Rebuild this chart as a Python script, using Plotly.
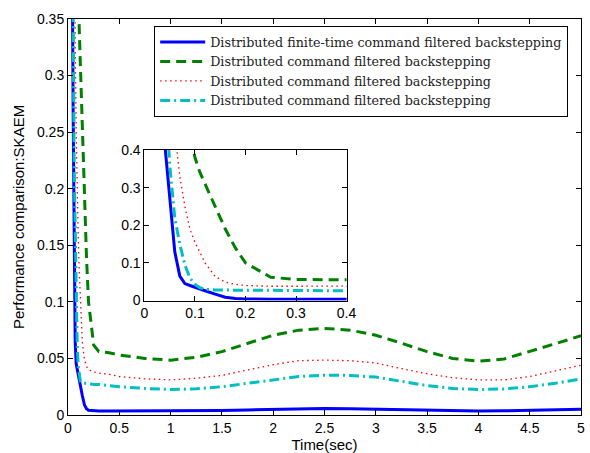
import plotly.graph_objects as go

t = [0, 0.02, 0.04, 0.05, 0.06, 0.07, 0.08, 0.09, 0.1, 0.11, 0.12, 0.14, 0.16, 0.18, 0.2,
     0.25, 0.3, 0.4, 0.5, 0.75, 1.0, 1.25, 1.5, 1.75, 2.0, 2.25, 2.5, 2.75, 3.0, 3.25,
     3.5, 3.75, 4.0, 4.25, 4.5, 4.75, 5.0]

finite_time = [2.0, 1.0, 0.42, 0.27, 0.13, 0.065, 0.045, 0.04, 0.036, 0.031, 0.026, 0.017,
               0.009, 0.0055, 0.0042, 0.0037, 0.0035, 0.0035, 0.0035, 0.0035, 0.0035, 0.0037,
               0.004, 0.0045, 0.005, 0.0055, 0.0057, 0.0055, 0.005, 0.0045, 0.004, 0.0036,
               0.0035, 0.0037, 0.004, 0.0045, 0.005]

cfb_green = [2.0, 1.8, 1.3, 1.0, 0.85, 0.7, 0.55, 0.45, 0.38, 0.34, 0.31, 0.25, 0.19, 0.14,
             0.1, 0.062, 0.056, 0.055, 0.053, 0.05, 0.0485, 0.051, 0.056, 0.063, 0.0705,
             0.075, 0.0765, 0.075, 0.0705, 0.0635, 0.056, 0.05, 0.0475, 0.0495, 0.056,
             0.063, 0.070]

cfb_red = [2.0, 1.5, 0.9, 0.65, 0.45, 0.33, 0.25, 0.19, 0.155, 0.126, 0.1, 0.064, 0.049,
           0.043, 0.04, 0.038, 0.037, 0.036, 0.034, 0.032, 0.031, 0.0325, 0.035, 0.04,
           0.0445, 0.048, 0.0485, 0.048, 0.046, 0.041, 0.0365, 0.033, 0.031, 0.031, 0.034,
           0.039, 0.044]

cfb_cyan = [2.0, 1.2, 0.6, 0.36, 0.22, 0.15, 0.095, 0.06, 0.043, 0.034, 0.03, 0.028, 0.028,
            0.028, 0.028, 0.027, 0.027, 0.026, 0.025, 0.0235, 0.0225, 0.0232, 0.025, 0.028,
            0.031, 0.034, 0.0352, 0.035, 0.0335, 0.030, 0.026, 0.0235, 0.0225, 0.023,
            0.025, 0.028, 0.032]

names = ["Distributed finite-time command filtered backstepping",
         "Distributed command filtered backstepping",
         "Distributed command filtered backstepping",
         "Distributed command filtered backstepping"]

main_xticks = [0, 0.5, 1, 1.5, 2, 2.5, 3, 3.5, 4, 4.5, 5]
main_xlabels = ["0", "0.5", "1", "1.5", "2", "2.5", "3", "3.5", "4", "4.5", "5"]
main_yticks = [0, 0.05, 0.1, 0.15, 0.2, 0.25, 0.3, 0.35]
main_ylabels = ["0", "0.05", "0.1", "0.15", "0.2", "0.25", "0.3", "0.35"]
inset_ticks = [0, 0.1, 0.2, 0.3, 0.4]
inset_labels = ["0", "0.1", "0.2", "0.3", "0.4"]

series = [finite_time, cfb_green, cfb_red, cfb_cyan]
styles = [
    dict(color="#0000FF", width=3, dash="solid"),
    dict(color="#008000", width=3, dash="10px,6px"),
    dict(color="#FF0000", width=1.3, dash="1.5px,3.5px"),
    dict(color="#00BFBF", width=3, dash="10px,4px,2px,4px"),
]

fig = go.Figure()
for y, nm, st in zip(series, names, styles):
    fig.add_trace(go.Scatter(x=t, y=y, mode="lines", name=nm, line=st,
                             xaxis="x", yaxis="y"))
for y, nm, st in zip(series, names, styles):
    fig.add_trace(go.Scatter(x=t, y=y, mode="lines", name=nm, line=st,
                             xaxis="x2", yaxis="y2", showlegend=False))

tickfont = dict(family="Liberation Sans, Arial, sans-serif", size=14, color="black")
titlefont = dict(family="Liberation Sans, Arial, sans-serif", size=15, color="black")
axis_common = dict(showgrid=False, zeroline=False, showline=True, linecolor="black",
                   linewidth=1, mirror="ticks", ticks="inside", ticklen=5,
                   tickcolor="black", tickfont=tickfont, automargin=False)

fig.update_layout(
    template="none",
    width=590, height=453,
    margin=dict(l=68, r=9, t=19, b=38),
    paper_bgcolor="white", plot_bgcolor="white",
    xaxis=dict(range=[0, 5], tickvals=main_xticks, ticktext=main_xlabels,
               title=dict(text="Time(sec)", font=titlefont, standoff=5),
               domain=[0, 1], anchor="y", **axis_common),
    yaxis=dict(range=[0, 0.35], tickvals=main_yticks, ticktext=main_ylabels,
               title=dict(text="Performance comparison:SKAEM", font=titlefont, standoff=8),
               domain=[0, 1], anchor="x", **axis_common),
    xaxis2=dict(range=[0, 0.4], tickvals=inset_ticks, ticktext=inset_labels,
                domain=[0.149, 0.543], anchor="y2", **axis_common),
    yaxis2=dict(range=[0, 0.4], tickvals=inset_ticks, ticktext=inset_labels,
                domain=[0.289, 0.669], anchor="x2", **axis_common),
    legend=dict(x=0.168, y=0.982, xanchor="left", yanchor="top",
                bgcolor="white", bordercolor="black", borderwidth=1,
                font=dict(family="DejaVu Serif, serif", size=12.7, color="#222"),
                itemwidth=45, tracegroupgap=0),
    showlegend=True,
)

fig.write_html("out.html")
